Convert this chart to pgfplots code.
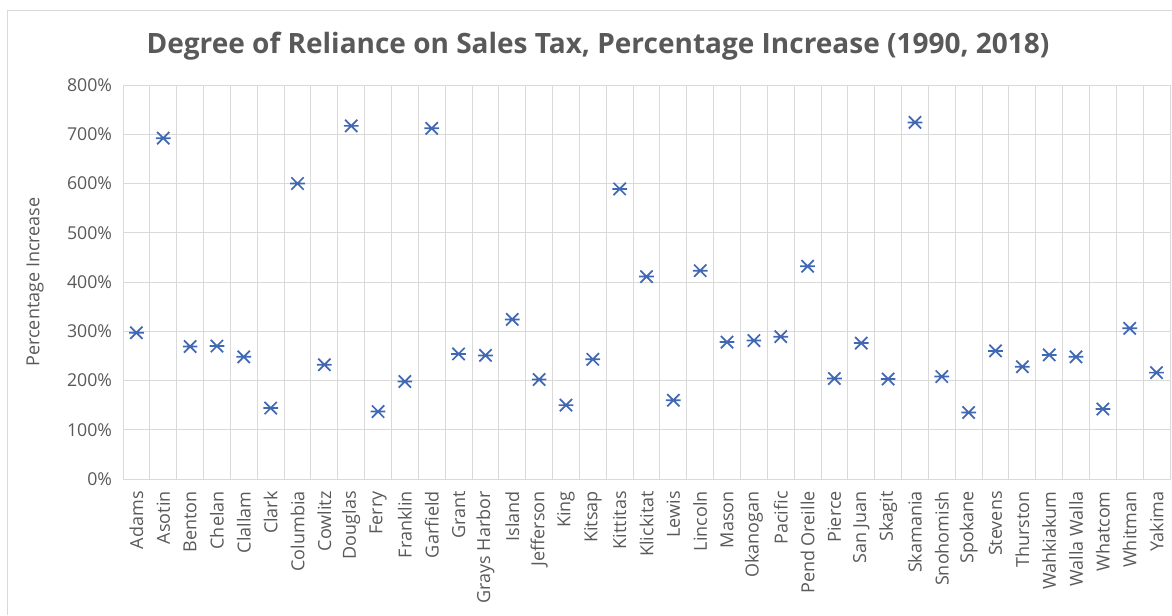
\documentclass[border=0pt]{standalone}
\usepackage{pgfplots}
\pgfplotsset{compat=1.18}
\usepackage{fontspec}
\setmainfont{Open Sans}
\definecolor{txt}{HTML}{595959}
\definecolor{grd}{HTML}{D9D9D9}
\definecolor{ser}{HTML}{4068B4}
\pgfdeclareplotmark{xbar}{%
\pgfpathmoveto{\pgfpoint{-\pgfplotmarksize}{-\pgfplotmarksize}}%
\pgfpathlineto{\pgfpoint{\pgfplotmarksize}{\pgfplotmarksize}}%
\pgfpathmoveto{\pgfpoint{-\pgfplotmarksize}{\pgfplotmarksize}}%
\pgfpathlineto{\pgfpoint{\pgfplotmarksize}{-\pgfplotmarksize}}%
\pgfpathmoveto{\pgfpoint{-1.2\pgfplotmarksize}{0pt}}%
\pgfpathlineto{\pgfpoint{1.2\pgfplotmarksize}{0pt}}%
\pgfusepathqstroke}
\begin{document}
\begin{tikzpicture}
\path[use as bounding box] (0,0) rectangle (879pt,461.25pt);
\draw[grd,line width=0.75pt] (5.25pt,0) -- (5.25pt,453pt) -- (879pt,453pt);
\node[txt,font=\fontsize{21}{24}\selectfont\bfseries] at (448.5pt,427pt) {Degree of Reliance on Sales Tax, Percentage Increase (1990, 2018)};
\begin{axis}[
  at={(92.25pt,102pt)}, anchor=south west,
  scale only axis, width=785.25pt, height=295.5pt,
  xmin=-0.5, xmax=38.5, ymin=0, ymax=800,
  xtick={0,...,38},
  minor xtick={-0.5,0.5,...,38.5},
  xminorgrids=true, xmajorgrids=false, ymajorgrids=true,
  ytick={0,100,...,800},
  grid style={grd,line width=0.75pt},
  minor grid style={grd,line width=0.75pt},
  axis line style={grd,line width=0.75pt},
  major tick length=0pt, minor tick length=0pt,
  tick style={draw=none},
  xticklabels={Adams,Asotin,Benton,Chelan,Clallam,Clark,Columbia,Cowlitz,Douglas,Ferry,Franklin,Garfield,Grant,Grays Harbor,Island,Jefferson,King,Kitsap,Kittitas,Klickitat,Lewis,Lincoln,Mason,Okanogan,Pacific,Pend Oreille,Pierce,San Juan,Skagit,Skamania,Snohomish,Spokane,Stevens,Thurston,Wahkiakum,Walla Walla,Whatcom,Whitman,Yakima},
  xticklabel style={yshift=-7pt, rotate=90, anchor=east, font=\fontsize{13.5}{15}\selectfont, text=txt},
  yticklabel={\pgfmathprintnumber{\tick}\%},
  yticklabel style={xshift=-6pt, font=\fontsize{13.3}{15}\selectfont, text=txt},
  /pgf/number format/assume math mode=true,
  xtick pos=bottom, ytick pos=left,
  tick label style={inner sep=2pt},
  ylabel={Percentage Increase},
  ylabel style={font=\fontsize{13.5}{15}\selectfont, text=txt, at={(axis description cs:-0.084,0.5)}, anchor=center},
  clip=false,
]
\addplot[only marks, mark=xbar, mark size=4.6pt, ser, line width=1.3pt] coordinates {
(0,297) (1,692) (2,269) (3,270) (4,248) (5,144) (6,600) (7,232) (8,717) (9,137)
(10,198) (11,712) (12,254) (13,251) (14,324) (15,202) (16,150) (17,243) (18,589) (19,411)
(20,160) (21,423) (22,278) (23,281) (24,289) (25,432) (26,204) (27,276) (28,203) (29,724)
(30,208) (31,135) (32,260) (33,228) (34,252) (35,248) (36,142) (37,306) (38,216)
};
\end{axis}
\end{tikzpicture}
\end{document}
